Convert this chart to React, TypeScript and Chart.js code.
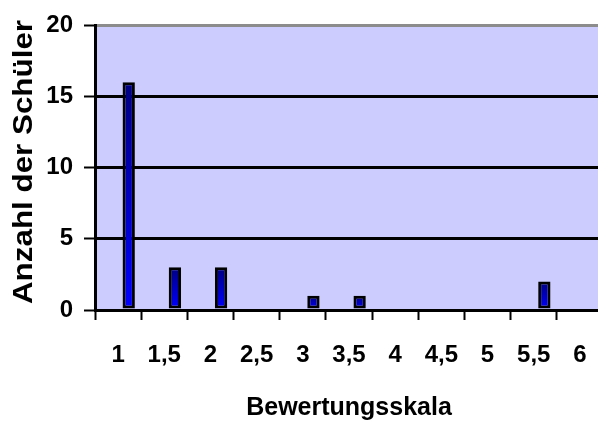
import React, { useEffect, useRef } from "react";
import { Chart, registerables } from "chart.js";

Chart.register(...registerables);

const categories = ["1", "1,5", "2", "2,5", "3", "3,5", "4", "4,5", "5", "5,5", "6"];
const studentCounts = [16, 3, 3, 0, 1, 1, 0, 0, 0, 2, 0];
const blankSeries = [0, 0, 0, 0, 0, 0, 0, 0, 0, 0, 0];
const yTicks = [0, 5, 10, 15, 20];
const xTitle = "Bewertungsskala";
const yTitle = "Anzahl der Schüler";

const FONT = '"Liberation Sans", Arial, sans-serif';

const bgPlugin = {
  id: "plotBg",
  beforeDraw(chart: any) {
    const { ctx, chartArea } = chart;
    if (!chartArea) return;
    ctx.save();
    ctx.fillStyle = "#CCCCFF";
    ctx.fillRect(chartArea.left, chartArea.top, chartArea.right - chartArea.left, chartArea.bottom - chartArea.top);
    ctx.restore();
  },
};

const yTitlePlugin = {
  id: "yTitleStretched",
  afterDraw(chart: any) {
    const { ctx } = chart;
    ctx.save();
    ctx.translate(32, 162);
    ctx.rotate(-Math.PI / 2);
    ctx.scale(1.12, 1);
    ctx.font = `bold 28px ${FONT}`;
    ctx.textAlign = "center";
    ctx.textBaseline = "alphabetic";
    ctx.fillStyle = "#000";
    ctx.fillText(yTitle, 0, 0);
    ctx.restore();
  },
};

function barFill(c: any) {
  const chart = c.chart;
  const yScale = chart.scales && chart.scales.y;
  const v = c.raw;
  if (!chart.chartArea || !yScale || typeof v !== "number" || v <= 0) return "#0000CC";
  const top = yScale.getPixelForValue(v);
  const bottom = yScale.getPixelForValue(0);
  if (!isFinite(top) || !isFinite(bottom) || bottom - top < 1) return "#0000CC";
  const g = chart.ctx.createLinearGradient(0, top, 0, bottom);
  g.addColorStop(0, "#000080");
  g.addColorStop(1, "#0000FF");
  return g;
}

export default function App() {
  const ref = useRef<HTMLCanvasElement | null>(null);
  useEffect(() => {
    if (!ref.current) return;
    const chart = new Chart(ref.current, {
      type: "bar",
      data: {
        labels: categories,
        datasets: [
          {
            label: "",
            data: blankSeries,
            backgroundColor: "rgba(0,0,0,0)",
            borderWidth: 0,
            categoryPercentage: 0.92,
            barPercentage: 0.58,
          },
          {
            label: yTitle,
            data: studentCounts,
            backgroundColor: barFill as any,
            borderColor: "#000000",
            borderWidth: 3,
            borderSkipped: false as any,
            categoryPercentage: 0.92,
            barPercentage: 0.58,
          },
        ],
      },
      options: {
        animation: false,
        responsive: false,
        maintainAspectRatio: false,
        layout: { padding: { top: 20, right: 9, left: 0, bottom: 0 } },
        plugins: { legend: { display: false }, tooltip: { enabled: false } },
        scales: {
          x: {
            offset: true,
            grid: {
              display: true,
              drawOnChartArea: false,
              drawTicks: true,
              tickLength: 10,
              tickColor: "#000",
              tickWidth: 2,
              offset: true,
            },
            border: { display: true, color: "#000", width: 3 },
            ticks: {
              color: "#000",
              font: { family: FONT, size: 24, weight: "bold" },
              padding: 21,
              maxRotation: 0,
              autoSkip: false,
            },
            title: {
              display: true,
              text: xTitle,
              color: "#000",
              font: { family: FONT, size: 25, weight: "bold" },
              padding: { top: 0, bottom: 1 },
            },
            afterFit: (s: any) => {
              s.height = 114;
            },
          },
          y: {
            min: 0,
            max: 20,
            afterBuildTicks: (s: any) => {
              s.ticks = yTicks.map((v) => ({ value: v }));
            },
            ticks: {
              color: "#000",
              font: { family: FONT, size: 24, weight: "bold" },
              padding: 11,
            },
            grid: {
              color: (c: any) => (c.tick && c.tick.value === 20 ? "#8C8C8C" : "#000"),
              lineWidth: 3,
              tickLength: 11,
              tickColor: "#000",
              tickWidth: 2,
            },
            border: { display: true, color: "#000", width: 3 },
            afterFit: (s: any) => {
              s.width = 95;
            },
          },
        },
      },
      plugins: [bgPlugin, yTitlePlugin],
    });
    return () => chart.destroy();
  }, []);
  return (
    <div style={{ position: "fixed", left: 0, top: 0, width: 598, height: 424, overflow: "hidden", background: "#fff" }}>
      <canvas ref={ref} width={612} height={424} style={{ display: "block" }} />
    </div>
  );
}
